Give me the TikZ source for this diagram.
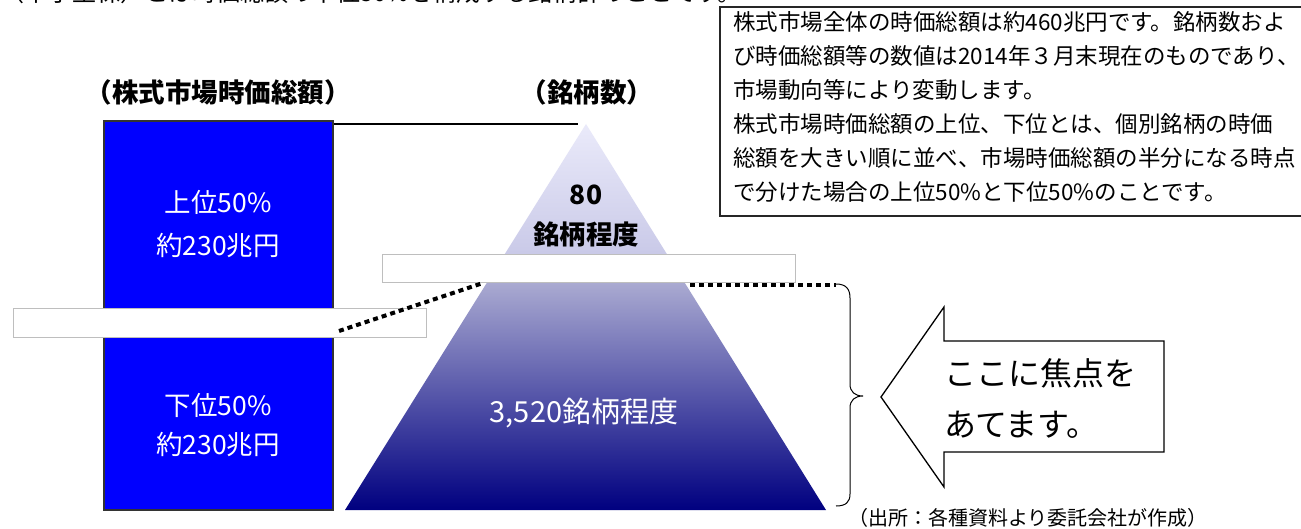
\documentclass[tikz,border=0pt]{standalone}
\usepackage{fontspec}
\setmainfont{Noto Sans CJK JP}
\usetikzlibrary{calc}
\definecolor{rectblue}{RGB}{0,0,255}
\definecolor{pyrtop}{RGB}{234,234,250}
\definecolor{pyrmid1}{RGB}{198,198,230}
\definecolor{pyrmid2}{RGB}{180,180,214}
\definecolor{pyrbot}{RGB}{0,0,128}
\definecolor{bandgray}{RGB}{190,190,190}
\begin{document}
\begin{tikzpicture}[x=1pt,y=-1pt,
  hdr/.style={font=\fontsize{26.5}{28}\selectfont\bfseries, inner sep=0},
  wlabel/.style={text=white, font=\fontsize{26.5}{28}\selectfont, inner sep=0},
  blabel/.style={text=black, font=\fontsize{26.5}{28}\selectfont\bfseries, inner sep=0},
  bandbox/.style={fill=white, draw=bandgray, line width=1pt},
  dotline/.style={line width=4pt, dash pattern=on 5pt off 4pt},
  infotext/.style={anchor=west, font=\fontsize{22.5}{26}\selectfont, inner sep=0},
  arrowtext/.style={anchor=west, font=\fontsize{32}{36}\selectfont, inner sep=0}]
\useasboundingbox (0,0) rectangle (1301,529);
\fill[white] (0,0) rectangle (1301,529);

% clipped text line at the top
\begin{scope}
\clip (0,0) rectangle (1301,529);
\node[anchor=west, font=\fontsize{24}{26}\selectfont, inner sep=0] (toptext) at (0,-8) {（中小型株）とは時価総額の下位50\%を構成する銘柄群のことです。};
\end{scope}

% headers
\node[hdr] (hdrcap) at (218,92) {（株式市場時価総額）};
\node[hdr] (hdrnum) at (587,92) {（銘柄数）};

% blue market-cap bar
\draw[fill=rectblue, draw=gray!40!black, line width=1.5pt] (104,121) rectangle (333,510);
\coordinate (barTR) at (334,124);

% pyramid
\coordinate (apex) at (586,124);
\coordinate (bl) at (345,510);
\coordinate (br) at (826,510);
\coordinate (sl) at ($(apex)!0.3756!(bl)$);
\coordinate (sr) at ($(apex)!0.3756!(br)$);
\shade[top color=pyrtop, bottom color=pyrmid1, draw=none] (apex) -- (sl) -- (sr) -- cycle;
\shade[top color=pyrmid2, bottom color=pyrbot, draw=none] (sl) -- (bl) -- (br) -- (sr) -- cycle;
\coordinate (apexL) at (578,124);
\draw[line width=1.5pt] (barTR) -- (apexL);

% white bands
\draw[bandbox] (382,255) rectangle (795,283);
\draw[bandbox] (13,309) rectangle (426,337);

% dotted connectors
\coordinate (d1a) at (339,331);
\coordinate (d1b) at (483,283);
\draw[dotline] (d1a) -- (d1b);
\coordinate (d2a) at (690,285);
\coordinate (d2b) at (836,285);
\draw[dotline] (d2a) -- (d2b);

% brace
\draw[line width=1pt] (836,284) .. controls (846,284) and (850,289) .. (850,298) -- (850,384)
  .. controls (850,392) and (855,396) .. (863,396)
  .. controls (855,396) and (850,400) .. (850,408) -- (850,494)
  .. controls (850,502) and (846,506) .. (836,506);

% block arrow
\draw[fill=white, line width=1.3pt] (881,397) -- (944,307) -- (944,341) -- (1164,341) -- (1164,452) -- (944,452) -- (944,487) -- cycle;
\node[arrowtext] (arr1) at (944,373) {ここに焦点を};
\node[arrowtext] (arr2) at (944,425) {あてます。};

% labels in the bar
\node[wlabel] (up1) at (218,202) {上位50\%};
\node[wlabel] (up2) at (218,245) {約230兆円};
\node[wlabel] (lo1) at (218,405) {下位50\%};
\node[wlabel] (lo2) at (218,444) {約230兆円};

% labels in the pyramid
\node[blabel] (p80) at (586,195) {80};
\node[blabel] (p80b) at (586,234) {銘柄程度};
\node[wlabel, font=\fontsize{29}{30}\selectfont] (p3520) at (584,413) {3,520銘柄程度};

% info box
\draw[draw=gray!30!black, line width=1.8pt] (720,7) rectangle (1312,216);
\node[infotext] (i1) at (733,22) {株式市場全体の時価総額は約460兆円です。銘柄数およ};
\node[infotext] (i2) at (733,56) {び時価総額等の数値は2014年３月末現在のものであり、};
\node[infotext] (i3) at (733,90) {市場動向等により変動します。};
\node[infotext] (i4) at (733,124) {株式市場時価総額の上位、下位とは、個別銘柄の時価};
\node[infotext] (i5) at (733,158) {総額を大きい順に並べ、市場時価総額の半分になる時点};
\node[infotext] (i6) at (733,192) {で分けた場合の上位50\%と下位50\%のことです。};

% source
\node[anchor=west, font=\fontsize{20}{22}\selectfont, inner sep=0] (src) at (848,518) {（出所：各種資料より委託会社が作成）};
\end{tikzpicture}
\end{document}
